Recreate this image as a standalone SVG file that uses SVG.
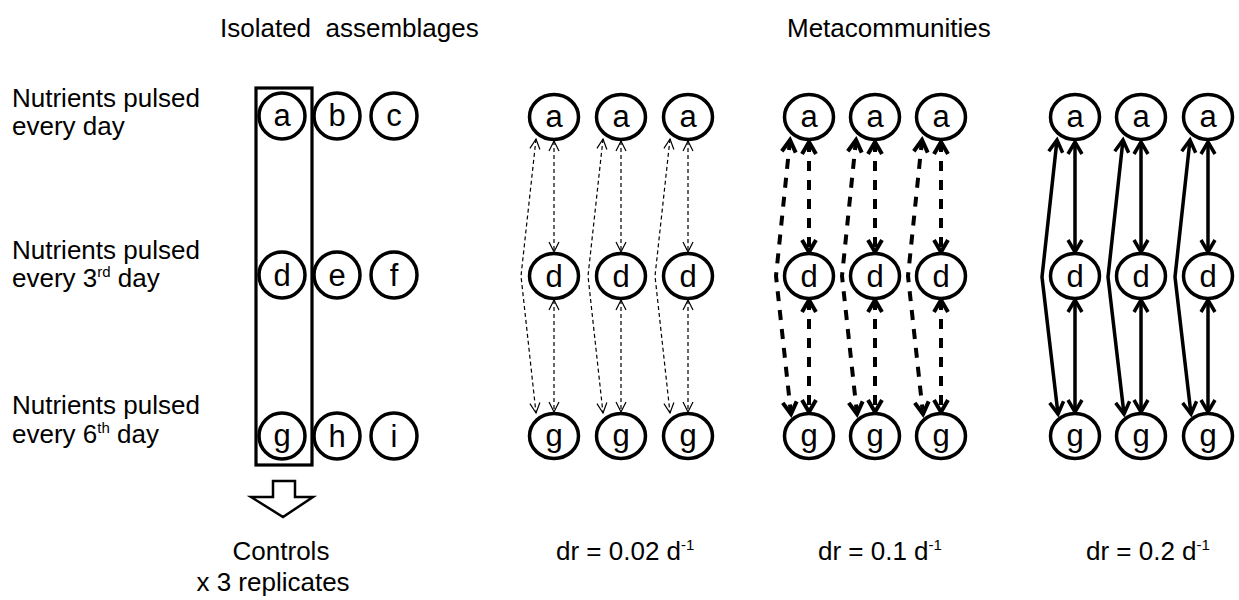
<svg xmlns="http://www.w3.org/2000/svg" width="1239" height="600" viewBox="0 0 1239 600">
<style>
text{font-family:"Liberation Sans",Arial,sans-serif;fill:#000}
.lbl{font-size:26px}
.sup{font-size:15px}
.nd{font-size:31px;text-anchor:middle}
.c{fill:#fff;stroke:#000;stroke-width:3.5}
.l1{fill:none;stroke:#000;stroke-width:1.2;stroke-dasharray:4 3}
.l2{fill:none;stroke:#000;stroke-width:4;stroke-dasharray:10 9}
.l3{fill:none;stroke:#000;stroke-width:3.5}
</style>
<defs>
<marker id="m1" markerUnits="userSpaceOnUse" markerWidth="16" markerHeight="16" viewBox="-3 -3 16 16" refX="10" refY="5" orient="auto-start-reverse" overflow="visible">
<path d="M0,0 L10,5 L0,10" fill="none" stroke="#000" stroke-width="1.2"/>
</marker>
<marker id="m2" markerUnits="userSpaceOnUse" markerWidth="20" markerHeight="20" viewBox="-3 -3 20 20" refX="12" refY="7" orient="auto-start-reverse" overflow="visible">
<path d="M0,0 L12,7 L0,14" fill="none" stroke="#000" stroke-width="4"/>
</marker>
<marker id="m3" markerUnits="userSpaceOnUse" markerWidth="20" markerHeight="20" viewBox="-3 -3 20 20" refX="12" refY="7" orient="auto-start-reverse" overflow="visible">
<path d="M0,0 L12,7 L0,14" fill="none" stroke="#000" stroke-width="3.5"/>
</marker>
</defs>

<g id="titles">
<text class="lbl" x="220" y="37" style="white-space:pre">Isolated  assemblages</text>
<text class="lbl" x="787" y="37">Metacommunities</text>
</g>

<g id="row-labels">
<text class="lbl" x="12" y="107">Nutrients pulsed</text>
<text class="lbl" x="12" y="135">every day</text>
<text class="lbl" x="12" y="259">Nutrients pulsed</text>
<text class="lbl" x="12" y="287">every 3<tspan class="sup" dy="-10">rd</tspan><tspan dy="10"> day</tspan></text>
<text class="lbl" x="12" y="414">Nutrients pulsed</text>
<text class="lbl" x="12" y="443">every 6<tspan class="sup" dy="-10">th</tspan><tspan dy="10"> day</tspan></text>
</g>

<g id="iso-nodes">
<g id="n-a"><ellipse class="c" cx="282" cy="116" rx="23" ry="23"/><text class="nd" x="282" y="126">a</text></g>
<g id="n-b"><ellipse class="c" cx="337" cy="116" rx="23" ry="23"/><text class="nd" x="337" y="126">b</text></g>
<g id="n-c"><ellipse class="c" cx="394" cy="116" rx="23" ry="23"/><text class="nd" x="394" y="126">c</text></g>
<g id="n-d"><ellipse class="c" cx="282" cy="275" rx="23" ry="23"/><text class="nd" x="282" y="286">d</text></g>
<g id="n-e"><ellipse class="c" cx="337" cy="275" rx="23" ry="23"/><text class="nd" x="337" y="286">e</text></g>
<g id="n-f"><ellipse class="c" cx="394" cy="275" rx="23" ry="23"/><text class="nd" x="394" y="286">f</text></g>
<g id="n-g"><ellipse class="c" cx="282" cy="436" rx="23" ry="23"/><text class="nd" x="282" y="446">g</text></g>
<g id="n-h"><ellipse class="c" cx="337" cy="436" rx="23" ry="23"/><text class="nd" x="337" y="447">h</text></g>
<g id="n-i"><ellipse class="c" cx="394" cy="436" rx="23" ry="23"/><text class="nd" x="394" y="447">i</text></g>
</g>

<g id="controls-box">
<rect x="256" y="88" width="56" height="377" fill="none" stroke="#000" stroke-width="3.2"/>
</g>

<g id="block-arrow">
<path d="M273,481 L295,481 L295,497 L313,497 L283,517 L251,497 L273,497 Z" fill="#fff" stroke="#000" stroke-width="2.5" stroke-linejoin="miter"/>
</g>

<g id="connectors">
<line class="l1" x1="554" y1="141" x2="554" y2="252" marker-start="url(#m1)" marker-end="url(#m1)"/>
<line class="l1" x1="554" y1="300" x2="554" y2="412" marker-start="url(#m1)" marker-end="url(#m1)"/>
<polyline class="l1" points="536,139 521,276 536,413" marker-start="url(#m1)" marker-end="url(#m1)"/>
<line class="l1" x1="621" y1="141" x2="621" y2="252" marker-start="url(#m1)" marker-end="url(#m1)"/>
<line class="l1" x1="621" y1="300" x2="621" y2="412" marker-start="url(#m1)" marker-end="url(#m1)"/>
<polyline class="l1" points="603,139 588,276 603,413" marker-start="url(#m1)" marker-end="url(#m1)"/>
<line class="l1" x1="688" y1="141" x2="688" y2="252" marker-start="url(#m1)" marker-end="url(#m1)"/>
<line class="l1" x1="688" y1="300" x2="688" y2="412" marker-start="url(#m1)" marker-end="url(#m1)"/>
<polyline class="l1" points="670,139 655,276 670,413" marker-start="url(#m1)" marker-end="url(#m1)"/>

<line class="l2" x1="809" y1="142" x2="809" y2="252" marker-start="url(#m2)" marker-end="url(#m2)"/>
<line class="l2" x1="809" y1="300" x2="809" y2="412" marker-start="url(#m2)" marker-end="url(#m2)"/>
<polyline class="l2" points="790,140 776,276 791,414" marker-start="url(#m2)" marker-end="url(#m2)"/>
<line class="l2" x1="875" y1="142" x2="875" y2="252" marker-start="url(#m2)" marker-end="url(#m2)"/>
<line class="l2" x1="875" y1="300" x2="875" y2="412" marker-start="url(#m2)" marker-end="url(#m2)"/>
<polyline class="l2" points="856,140 842,276 857,414" marker-start="url(#m2)" marker-end="url(#m2)"/>
<line class="l2" x1="941" y1="142" x2="941" y2="252" marker-start="url(#m2)" marker-end="url(#m2)"/>
<line class="l2" x1="941" y1="300" x2="941" y2="412" marker-start="url(#m2)" marker-end="url(#m2)"/>
<polyline class="l2" points="922,140 908,276 923,414" marker-start="url(#m2)" marker-end="url(#m2)"/>

<line class="l3" x1="1075" y1="142" x2="1075" y2="252" marker-start="url(#m3)" marker-end="url(#m3)"/>
<line class="l3" x1="1075" y1="300" x2="1075" y2="412" marker-start="url(#m3)" marker-end="url(#m3)"/>
<polyline class="l3" points="1057,140 1042,277 1058,414" marker-start="url(#m3)" marker-end="url(#m3)"/>
<line class="l3" x1="1141" y1="142" x2="1141" y2="252" marker-start="url(#m3)" marker-end="url(#m3)"/>
<line class="l3" x1="1141" y1="300" x2="1141" y2="412" marker-start="url(#m3)" marker-end="url(#m3)"/>
<polyline class="l3" points="1123,140 1108,277 1124,414" marker-start="url(#m3)" marker-end="url(#m3)"/>
<line class="l3" x1="1208" y1="142" x2="1208" y2="252" marker-start="url(#m3)" marker-end="url(#m3)"/>
<line class="l3" x1="1208" y1="300" x2="1208" y2="412" marker-start="url(#m3)" marker-end="url(#m3)"/>
<polyline class="l3" points="1190,140 1175,277 1191,414" marker-start="url(#m3)" marker-end="url(#m3)"/>
</g>

<g id="meta-nodes">
<g id="p1-a1"><ellipse class="c" cx="554" cy="117" rx="24.5" ry="22.5"/><text class="nd" x="554" y="127">a</text></g>
<g id="p1-a2"><ellipse class="c" cx="621" cy="117" rx="24.5" ry="22.5"/><text class="nd" x="621" y="127">a</text></g>
<g id="p1-a3"><ellipse class="c" cx="688" cy="117" rx="24.5" ry="22.5"/><text class="nd" x="688" y="127">a</text></g>
<g id="p1-d1"><ellipse class="c" cx="554" cy="276" rx="24.5" ry="22.5"/><text class="nd" x="554" y="287">d</text></g>
<g id="p1-d2"><ellipse class="c" cx="621" cy="276" rx="24.5" ry="22.5"/><text class="nd" x="621" y="287">d</text></g>
<g id="p1-d3"><ellipse class="c" cx="688" cy="276" rx="24.5" ry="22.5"/><text class="nd" x="688" y="287">d</text></g>
<g id="p1-g1"><ellipse class="c" cx="554" cy="436" rx="24.5" ry="22.5"/><text class="nd" x="554" y="446">g</text></g>
<g id="p1-g2"><ellipse class="c" cx="621" cy="436" rx="24.5" ry="22.5"/><text class="nd" x="621" y="446">g</text></g>
<g id="p1-g3"><ellipse class="c" cx="688" cy="436" rx="24.5" ry="22.5"/><text class="nd" x="688" y="446">g</text></g>

<g id="p2-a1"><ellipse class="c" cx="809" cy="117" rx="24.5" ry="22.5"/><text class="nd" x="809" y="127">a</text></g>
<g id="p2-a2"><ellipse class="c" cx="875" cy="117" rx="24.5" ry="22.5"/><text class="nd" x="875" y="127">a</text></g>
<g id="p2-a3"><ellipse class="c" cx="941" cy="117" rx="24.5" ry="22.5"/><text class="nd" x="941" y="127">a</text></g>
<g id="p2-d1"><ellipse class="c" cx="809" cy="276" rx="24.5" ry="22.5"/><text class="nd" x="809" y="287">d</text></g>
<g id="p2-d2"><ellipse class="c" cx="875" cy="276" rx="24.5" ry="22.5"/><text class="nd" x="875" y="287">d</text></g>
<g id="p2-d3"><ellipse class="c" cx="941" cy="276" rx="24.5" ry="22.5"/><text class="nd" x="941" y="287">d</text></g>
<g id="p2-g1"><ellipse class="c" cx="809" cy="436" rx="24.5" ry="22.5"/><text class="nd" x="809" y="446">g</text></g>
<g id="p2-g2"><ellipse class="c" cx="875" cy="436" rx="24.5" ry="22.5"/><text class="nd" x="875" y="446">g</text></g>
<g id="p2-g3"><ellipse class="c" cx="941" cy="436" rx="24.5" ry="22.5"/><text class="nd" x="941" y="446">g</text></g>

<g id="p3-a1"><ellipse class="c" cx="1075" cy="117" rx="24.5" ry="22.5"/><text class="nd" x="1075" y="127">a</text></g>
<g id="p3-a2"><ellipse class="c" cx="1141" cy="117" rx="24.5" ry="22.5"/><text class="nd" x="1141" y="127">a</text></g>
<g id="p3-a3"><ellipse class="c" cx="1208" cy="117" rx="24.5" ry="22.5"/><text class="nd" x="1208" y="127">a</text></g>
<g id="p3-d1"><ellipse class="c" cx="1075" cy="276" rx="24.5" ry="22.5"/><text class="nd" x="1075" y="287">d</text></g>
<g id="p3-d2"><ellipse class="c" cx="1141" cy="276" rx="24.5" ry="22.5"/><text class="nd" x="1141" y="287">d</text></g>
<g id="p3-d3"><ellipse class="c" cx="1208" cy="276" rx="24.5" ry="22.5"/><text class="nd" x="1208" y="287">d</text></g>
<g id="p3-g1"><ellipse class="c" cx="1075" cy="436" rx="24.5" ry="22.5"/><text class="nd" x="1075" y="446">g</text></g>
<g id="p3-g2"><ellipse class="c" cx="1141" cy="436" rx="24.5" ry="22.5"/><text class="nd" x="1141" y="446">g</text></g>
<g id="p3-g3"><ellipse class="c" cx="1208" cy="436" rx="24.5" ry="22.5"/><text class="nd" x="1208" y="446">g</text></g>
</g>

<g id="bottom-labels">
<text class="lbl" x="281" y="560" text-anchor="middle">Controls</text>
<text class="lbl" x="273" y="591" text-anchor="middle">x 3 replicates</text>
<text class="lbl" x="556" y="560">dr = 0.02 d<tspan class="sup" dy="-10">-1</tspan></text>
<text class="lbl" x="818" y="560">dr = 0.1 d<tspan class="sup" dy="-10">-1</tspan></text>
<text class="lbl" x="1086" y="560">dr = 0.2 d<tspan class="sup" dy="-10">-1</tspan></text>
</g>
</svg>
